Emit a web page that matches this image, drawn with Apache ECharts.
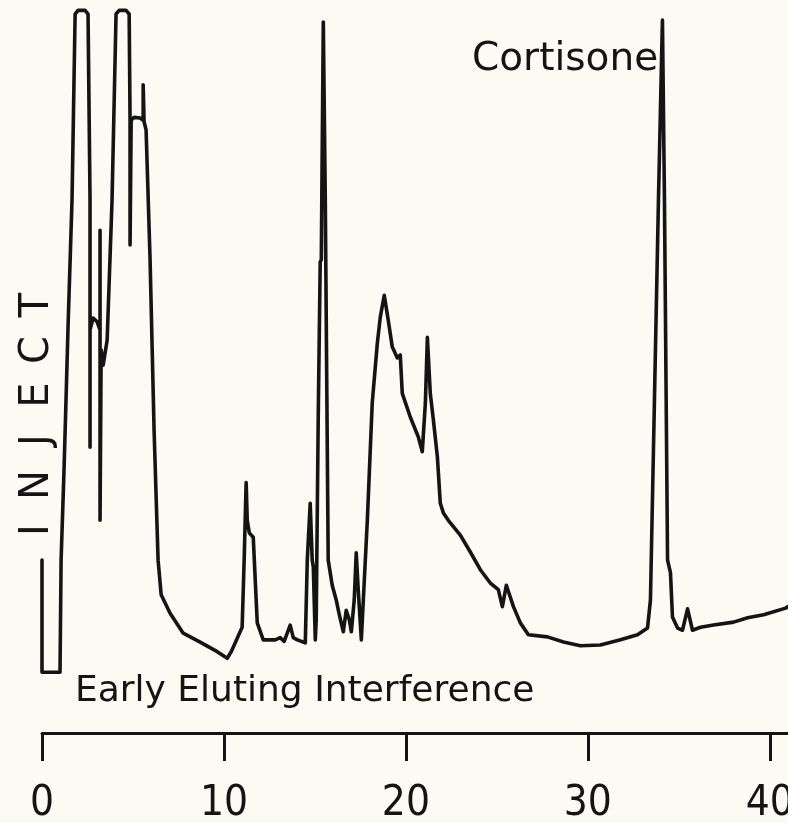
<!DOCTYPE html>
<html>
<head>
<meta charset="utf-8">
<title>Cortisone chromatogram</title>
<script src="https://cdn.jsdelivr.net/npm/echarts@6/dist/echarts.min.js"></script>
<style>
  html, body { margin: 0; padding: 0; background: #fbfbf4; }
  #chart { width: 788px; height: 823px; }
</style>
</head>
<body>
<div id="chart"></div>
<script>
// retention time (min) and detector response (% of full scale)
var retentionTime = [
  0.00, 0.00, 0.99, 1.05, 1.21, 1.32, 1.43, 1.65, 1.82, 1.98,
  2.37, 2.53, 2.64, 2.64, 2.64, 2.81, 3.03, 3.19, 3.19, 3.19,
  3.25, 3.36, 3.58, 3.85, 4.07, 4.24, 4.62, 4.79, 4.84, 4.84,
  4.90, 5.06, 5.39, 5.56, 5.56, 5.61, 5.72, 5.94, 6.16, 6.38,
  6.55, 7.04, 7.76, 8.69, 9.63, 10.18, 10.40, 11.00, 11.11, 11.22,
  11.28, 11.39, 11.61, 11.72, 11.83, 12.16, 12.82, 13.09, 13.31, 13.64,
  13.81, 14.03, 14.47, 14.58, 14.74, 14.85, 14.91, 15.02, 15.07, 15.18,
  15.29, 15.35, 15.46, 15.57, 15.68, 15.73, 15.95, 16.17, 16.34, 16.56,
  16.72, 16.89, 17.00, 17.16, 17.27, 17.38, 17.55, 17.66, 17.88, 18.15,
  18.43, 18.59, 18.81, 19.03, 19.25, 19.53, 19.69, 19.80, 20.24, 20.68,
  20.90, 21.07, 21.18, 21.34, 21.51, 21.73, 21.89, 22.06, 22.33, 22.99,
  23.54, 24.09, 24.64, 25.08, 25.30, 25.52, 25.91, 26.29, 26.73, 27.78,
  28.66, 29.59, 30.69, 31.79, 32.73, 33.28, 33.44, 33.66, 33.88, 34.05,
  34.10, 34.21, 34.38, 34.54, 34.65, 34.93, 35.20, 35.48, 35.75, 36.19,
  36.91, 38.01, 38.78, 39.66, 40.87, 41.00
]
var response = [
  24.1, 8.9, 8.9, 24.1, 36.3, 45.8, 55.6, 72.9, 98.1, 98.6,
  98.6, 98.1, 72.9, 39.4, 55.3, 56.9, 56.4, 55.3, 68.8, 29.5,
  52.6, 50.5, 53.9, 72.9, 98.1, 98.6, 98.6, 98.1, 83.7, 66.8,
  83.7, 84.1, 84.0, 83.7, 88.5, 83.5, 82.4, 64.8, 41.7, 24.1,
  19.4, 16.9, 14.2, 13.0, 11.7, 10.8, 11.7, 15.0, 24.1, 34.6,
  29.5, 27.8, 27.2, 21.4, 15.6, 13.3, 13.3, 13.6, 13.1, 15.3,
  13.6, 13.3, 12.9, 24.1, 31.8, 24.1, 23.2, 13.3, 16.0, 43.1,
  64.5, 64.8, 97.0, 72.9, 39.0, 24.1, 20.7, 18.7, 16.7, 14.4,
  17.3, 16.0, 14.4, 18.7, 25.1, 20.1, 13.3, 18.7, 29.5, 45.4,
  53.5, 57.0, 60.0, 56.6, 53.0, 51.5, 51.9, 46.7, 43.5, 40.8,
  38.8, 45.4, 54.3, 46.7, 43.1, 38.1, 31.8, 30.5, 29.5, 27.5,
  25.2, 22.8, 21.0, 20.1, 17.8, 20.7, 17.8, 15.6, 14.0, 13.7,
  13.0, 12.5, 12.6, 13.3, 14.0, 14.9, 18.7, 45.8, 72.9, 91.9,
  97.3, 72.9, 24.1, 22.4, 16.4, 14.9, 14.6, 17.5, 14.6, 15.0,
  15.3, 15.7, 16.3, 16.7, 17.6, 17.8
]
var timeTicks = [0, 10, 20, 30, 40]
var peakLabel = 'Cortisone'
var bandLabel = 'Early Eluting Interference'
var injectLabel = 'INJECT'

var ink = '#141414'

var trace = []
for (var i = 0; i < retentionTime.length; i++) {
  trace.push([retentionTime[i], response[i]])
}

// INJECT is written bottom-to-top with wide letter spacing
var injectLetters = injectLabel.split('').map(function (ch, k) {
  return {
    type: 'text',
    x: k * 45,
    y: 0,
    style: {
      text: ch,
      fill: ink,
      font: '40px "DejaVu Sans"',
      textAlign: 'center',
      textVerticalAlign: 'middle'
    }
  }
})

var chart = echarts.init(document.getElementById('chart'))

var option = {
  backgroundColor: '#fbfbf4',
  animation: false,
  grid: { left: 42, right: 0, top: 0, bottom: 85, outerBoundsMode: 'none', containLabel: false },
  xAxis: {
    type: 'value',
    min: 0,
    max: 41,
    offset: -5,
    splitLine: { show: false },
    axisLine: { show: true, lineStyle: { color: ink, width: 3 } },
    axisTick: {
      show: true,
      customValues: timeTicks,
      length: 28,
      lineStyle: { color: ink, width: 3 }
    },
    axisLabel: {
      customValues: timeTicks,
      margin: 50,
      color: ink,
      fontSize: 42,
      fontFamily: '"Liberation Sans Narrow", "DejaVu Sans Condensed", sans-serif'
    }
  },
  yAxis: {
    type: 'value',
    min: 0,
    max: 100,
    show: false
  },
  series: [{
    type: 'line',
    data: trace,
    showSymbol: false,
    clip: false,
    lineStyle: { color: ink, width: 3.6, join: 'round', cap: 'round' }
  }],
  graphic: [
    {
      type: 'text',
      x: 472,
      y: 60,
      style: {
        text: peakLabel,
        fill: ink,
        font: '39px "DejaVu Sans"',
        textAlign: 'left',
        textVerticalAlign: 'middle'
      }
    },
    {
      type: 'text',
      x: 75,
      y: 692,
      style: {
        text: bandLabel,
        fill: ink,
        font: '36px "DejaVu Sans"',
        textAlign: 'left',
        textVerticalAlign: 'middle'
      }
    },
    {
      type: 'group',
      x: 38,
      y: 530,
      rotation: Math.PI / 2,
      children: injectLetters
    }
  ]
}

chart.setOption(option)
</script>
</body>
</html>
